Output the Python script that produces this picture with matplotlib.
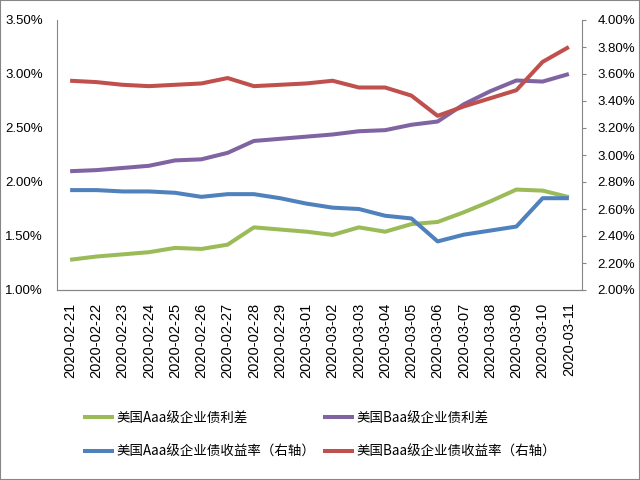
import matplotlib.pyplot as plt
from matplotlib.ticker import FuncFormatter

plt.rcParams['font.family'] = ['Noto Sans CJK SC', 'DejaVu Sans']

dates = ['2020-02-21', '2020-02-22', '2020-02-23', '2020-02-24', '2020-02-25',
         '2020-02-26', '2020-02-27', '2020-02-28', '2020-02-29', '2020-03-01',
         '2020-03-02', '2020-03-03', '2020-03-04', '2020-03-05', '2020-03-06',
         '2020-03-07', '2020-03-08', '2020-03-09', '2020-03-10', '2020-03-11']

# left axis: spreads (%)
aaa_spread = [1.28, 1.31, 1.33, 1.35, 1.39, 1.38, 1.42, 1.58, 1.56, 1.54,
              1.51, 1.58, 1.54, 1.61, 1.63, 1.72, 1.82, 1.93, 1.92, 1.86]
baa_spread = [2.10, 2.11, 2.13, 2.15, 2.20, 2.21, 2.27, 2.38, 2.40, 2.42,
              2.44, 2.47, 2.48, 2.53, 2.56, 2.72, 2.84, 2.94, 2.93, 3.00]
# right axis: yields (%)
aaa_yield = [2.74, 2.74, 2.73, 2.73, 2.72, 2.69, 2.71, 2.71, 2.68, 2.64,
             2.61, 2.60, 2.55, 2.53, 2.36, 2.41, 2.44, 2.47, 2.68, 2.68]
baa_yield = [3.55, 3.54, 3.52, 3.51, 3.52, 3.53, 3.57, 3.51, 3.52, 3.53,
             3.55, 3.50, 3.50, 3.44, 3.29, 3.36, 3.42, 3.48, 3.69, 3.80]

labels = ['美国Aaa级企业债利差', '美国Baa级企业债利差',
          '美国Aaa级企业债收益率（右轴）', '美国Baa级企业债收益率（右轴）']
colors = ['#9BBB59', '#8064A2', '#4F81BD', '#C0504D']

fig = plt.figure(figsize=(6.4, 4.8), dpi=100)
ax = fig.add_axes([57 / 640, 1 - 290 / 480, (582 - 57) / 640, (290 - 20) / 480])
ax2 = ax.twinx()

x = list(range(len(dates)))
l1, = ax.plot(x, aaa_spread, color=colors[0], lw=2.9, solid_capstyle='butt')
l2, = ax.plot(x, baa_spread, color=colors[1], lw=2.9, solid_capstyle='butt')
l3, = ax2.plot(x, aaa_yield, color=colors[2], lw=2.9, solid_capstyle='butt')
l4, = ax2.plot(x, baa_yield, color=colors[3], lw=2.9, solid_capstyle='butt')

ax.set_xlim(-0.5, len(dates) - 0.5)
ax.set_ylim(1.0, 3.5)
ax2.set_ylim(2.0, 4.0)
ax.set_yticks([1.0, 1.5, 2.0, 2.5, 3.0, 3.5])
ax2.set_yticks([2.0 + 0.2 * i for i in range(11)])
pct = FuncFormatter(lambda v, p: '%.2f%%' % v)
ax.yaxis.set_major_formatter(pct)
ax2.yaxis.set_major_formatter(pct)

ax.set_xticks(x)
ax.set_xticklabels(dates, rotation=90, fontsize=10.5,
                   family=['Liberation Sans', 'DejaVu Sans'])

gray = '#868686'
for a in (ax, ax2):
    for s in a.spines.values():
        s.set_color(gray)
    a.spines['top'].set_visible(False)
ax2.spines['left'].set_visible(False)
ax.spines['right'].set_visible(False)

ax.tick_params(axis='y', length=0, pad=10, labelsize=9.5)
ax.tick_params(axis='x', length=0, pad=9)
ax2.tick_params(axis='y', length=3, direction='out', color=gray, pad=8, labelsize=9.5)
for t in ax.get_yticklabels() + ax2.get_yticklabels():
    t.set_family(['Liberation Sans Narrow', 'Liberation Sans', 'DejaVu Sans'])

# legend fills column-wise: order so rows read spread / spread, yield / yield
fig.legend([l1, l3, l2, l4], [labels[0], labels[2], labels[1], labels[3]],
           ncol=2, loc='upper left',
           bbox_to_anchor=(83 / 640, 1 - 411 / 480), frameon=False,
           fontsize=9.7, handlelength=2.3, handletextpad=0.15,
           columnspacing=0.6, labelspacing=1.45, borderpad=0, borderaxespad=0)

# outer frame
fig.patches.append(plt.Rectangle((0, 0), 1, 1, transform=fig.transFigure,
                                 fill=False, edgecolor=gray, lw=1.5))

fig.savefig('out.png', dpi=100)
